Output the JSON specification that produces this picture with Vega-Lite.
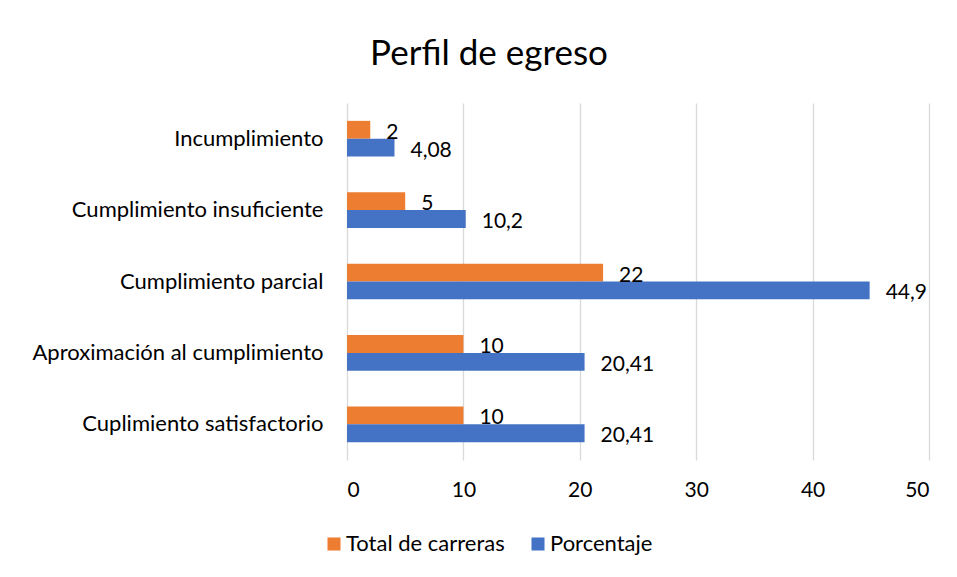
{
  "$schema": "https://vega.github.io/schema/vega-lite/v6.json",
  "autosize": {"type": "none"},
  "width": 582,
  "height": 357,
  "padding": {"left": 347, "top": 103, "right": 28, "bottom": 117},
  "background": "white",
  "title": {
    "text": "Perfil de egreso",
    "anchor": "middle",
    "frame": "group",
    "dx": -149,
    "offset": 31,
    "fontSize": 35,
    "font": "Lato",
    "fontWeight": "normal",
    "color": "#000000"
  },
  "data": {
    "values": [
      {"categoria": "Incumplimiento", "serie": "Total de carreras", "valor": 2, "etiqueta": "2"},
      {"categoria": "Incumplimiento", "serie": "Porcentaje", "valor": 4.08, "etiqueta": "4,08"},
      {"categoria": "Cumplimiento insuficiente", "serie": "Total de carreras", "valor": 5, "etiqueta": "5"},
      {"categoria": "Cumplimiento insuficiente", "serie": "Porcentaje", "valor": 10.2, "etiqueta": "10,2"},
      {"categoria": "Cumplimiento parcial", "serie": "Total de carreras", "valor": 22, "etiqueta": "22"},
      {"categoria": "Cumplimiento parcial", "serie": "Porcentaje", "valor": 44.9, "etiqueta": "44,9"},
      {"categoria": "Aproximación al cumplimiento", "serie": "Total de carreras", "valor": 10, "etiqueta": "10"},
      {"categoria": "Aproximación al cumplimiento", "serie": "Porcentaje", "valor": 20.41, "etiqueta": "20,41"},
      {"categoria": "Cuplimiento satisfactorio", "serie": "Total de carreras", "valor": 10, "etiqueta": "10"},
      {"categoria": "Cuplimiento satisfactorio", "serie": "Porcentaje", "valor": 20.41, "etiqueta": "20,41"}
    ]
  },
  "encoding": {
    "y": {
      "field": "categoria",
      "type": "nominal",
      "sort": ["Incumplimiento", "Cumplimiento insuficiente", "Cumplimiento parcial", "Aproximación al cumplimiento", "Cuplimiento satisfactorio"],
      "scale": {"paddingInner": 0.5, "paddingOuter": 0.25},
      "axis": {
        "title": null,
        "domain": false,
        "ticks": false,
        "labelPadding": 24,
        "labelFontSize": 22,
        "labelFont": "Lato",
        "labelColor": "#000000",
        "labelLimit": 400
      }
    },
    "yOffset": {
      "field": "serie",
      "type": "nominal",
      "sort": ["Total de carreras", "Porcentaje"],
      "scale": {"paddingInner": 0, "paddingOuter": 0}
    },
    "x": {
      "field": "valor",
      "type": "quantitative",
      "scale": {"domain": [0, 50], "nice": false},
      "axis": {
        "title": null,
        "values": [0, 10, 20, 30, 40, 50],
        "domain": false,
        "ticks": false,
        "grid": true,
        "gridColor": "#D9D9D9",
        "gridWidth": 1.3,
        "labelPadding": 19,
        "labelFontSize": 21,
        "labelFont": "Lato",
        "labelColor": "#000000"
      }
    }
  },
  "layer": [
    {
      "mark": {"type": "bar"},
      "encoding": {
        "color": {
          "field": "serie",
          "type": "nominal",
          "sort": ["Total de carreras", "Porcentaje"],
          "scale": {"domain": ["Total de carreras", "Porcentaje"], "range": ["#ED7D31", "#4472C4"]},
          "legend": {
            "title": null,
            "orient": "none",
            "direction": "horizontal",
            "legendX": -24,
            "legendY": 430,
            "symbolType": "square",
            "symbolSize": 170,
            "symbolStrokeWidth": 0,
            "labelFontSize": 22,
            "labelFont": "Lato",
            "labelColor": "#000000",
            "labelOffset": 1,
            "columnPadding": 22,
            "labelLimit": 300
          }
        }
      }
    },
    {
      "mark": {"type": "text", "align": "left", "baseline": "middle", "dx": 16, "dy": 3, "fontSize": 21, "font": "Lato", "color": "#000000"},
      "encoding": {
        "text": {"field": "etiqueta"}
      }
    }
  ],
  "config": {
    "view": {"stroke": null}
  }
}
